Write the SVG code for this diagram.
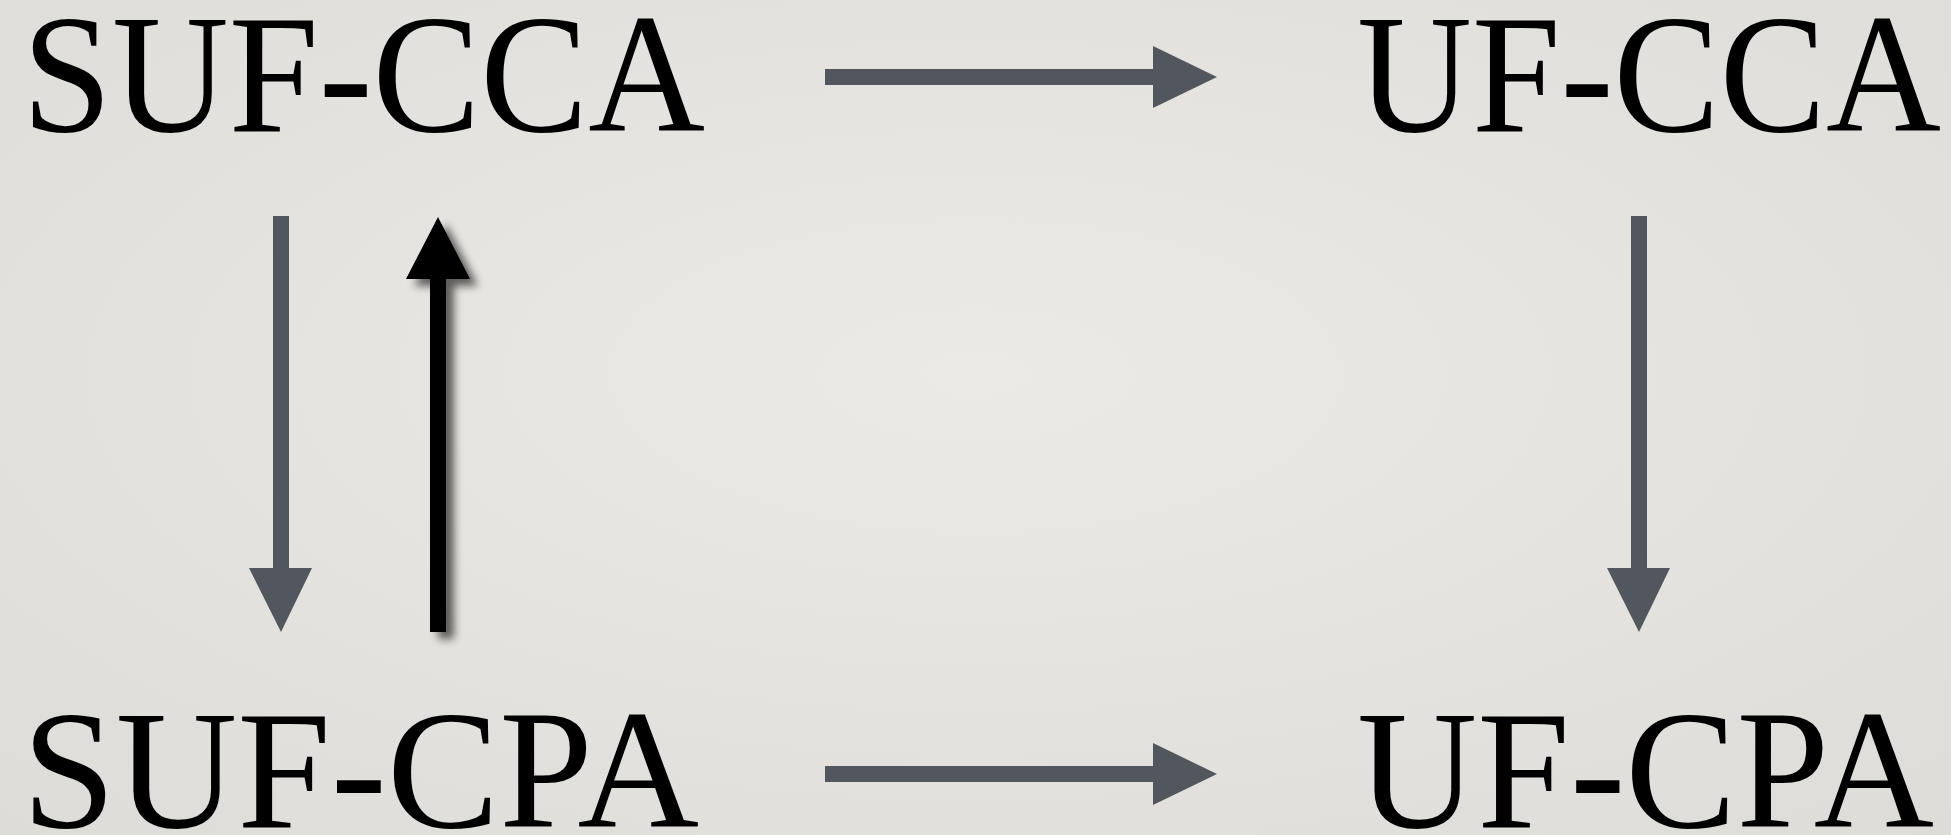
<svg xmlns="http://www.w3.org/2000/svg" width="1951" height="835" viewBox="0 0 1951 835">
  <defs>
    <radialGradient id="bg" cx="50%" cy="45%" r="75%">
      <stop offset="0" stop-color="#ebeae6"/>
      <stop offset="1" stop-color="#dddcd8"/>
    </radialGradient>
    <filter id="shadow" x="-100%" y="-20%" width="300%" height="140%">
      <feGaussianBlur in="SourceAlpha" stdDeviation="4.5"/>
      <feOffset dx="8" dy="7" result="b"/>
      <feComponentTransfer><feFuncA type="linear" slope="0.6"/></feComponentTransfer>
      <feMerge><feMergeNode/><feMergeNode in="SourceGraphic"/></feMerge>
    </filter>
    <style>
      .lbl { font-family: "Liberation Serif", "Times New Roman", serif; font-size: 170px; fill: #000; }
      .grey { fill: #52575d; }
      .black { fill: #000; }
    </style>
  </defs>

  <rect width="1951" height="835" fill="url(#bg)"/>

  <g id="node-suf-cca"><text class="lbl" x="22" y="131" textLength="683" lengthAdjust="spacingAndGlyphs">SUF-CCA</text></g>
  <g id="node-uf-cca"><text class="lbl" x="1357" y="131" textLength="584" lengthAdjust="spacingAndGlyphs">UF-CCA</text></g>
  <g id="node-suf-cpa"><text class="lbl" x="22" y="827" textLength="677" lengthAdjust="spacingAndGlyphs">SUF-CPA</text></g>
  <g id="node-uf-cpa"><text class="lbl" x="1357" y="827" textLength="577" lengthAdjust="spacingAndGlyphs">UF-CPA</text></g>

  <g id="connectors">
    <!-- SUF-CCA to UF-CCA -->
    <polygon class="grey" points="825,69 1153,69 1153,46 1217,77 1153,108 1153,85 825,85"/>
    <!-- SUF-CPA to UF-CPA -->
    <polygon class="grey" points="825,766 1153,766 1153,743 1217,774 1153,805 1153,782 825,782"/>
    <!-- SUF-CCA down to SUF-CPA -->
    <polygon class="grey" points="273,216 289,216 289,568 312,568 281,632 249,568 273,568"/>
    <!-- UF-CCA down to UF-CPA -->
    <polygon class="grey" points="1631,216 1647,216 1647,568 1670,568 1639,632 1607,568 1631,568"/>
    <!-- SUF-CPA back up to SUF-CCA -->
    <polygon class="black" filter="url(#shadow)" points="430,632 446,632 446,279 470,279 438,217 406,279 430,279"/>
  </g>
</svg>
